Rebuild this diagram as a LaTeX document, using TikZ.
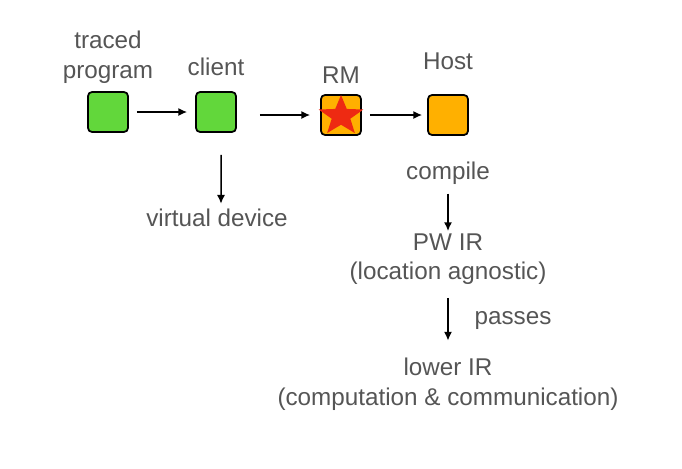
\documentclass[tikz,border=0pt]{standalone}
\usepackage{fontspec}
\setmainfont{Liberation Sans}
\usepackage{tikz}
\usetikzlibrary{arrows.meta}
\usetikzlibrary{shapes.geometric}
\definecolor{boxgreen}{HTML}{62D73B}
\definecolor{boxorange}{HTML}{FFB000}
\definecolor{starred}{HTML}{EE2A12}
\definecolor{txtgray}{HTML}{555555}
\tikzset{box/.style = {draw=black, line width=1pt, rounded corners=0.08cm, minimum size=0.8cm, inner sep=0}}
\tikzset{lbl/.style = {text=txtgray, inner sep=0, align=center, font=\fontsize{13.8}{16.8}\selectfont}}
\tikzset{arr/.style = {-{Latex[length=5pt,width=4.6pt]}, line width=0.85pt}}

\begin{document}
\begin{tikzpicture}[x=0.02cm, y=-0.02cm]
        \useasboundingbox (0,0) rectangle (682,468);
        \node [box, fill=boxgreen] (traced) at (108,112) {};
        \node [box, fill=boxgreen] (client) at (216,112) {};
        \node [box, fill=boxorange] (rm) at (341,115) {};
        \node [star, star points=5, star point ratio=2.4, fill=starred, minimum size=0.84cm, inner sep=0, xscale=1.12] (mark) at (341,116) {};
        \node [box, fill=boxorange] (host) at (448,115) {};
        \node [lbl] (tracedlbl) at (108,57) {traced\\program};
        \node [lbl] (clientlbl) at (216,67) {client};
        \node [lbl] (rmlbl) at (341,75) {RM};
        \node [lbl] (hostlbl) at (448,61) {Host};
        \node [lbl] (vdev) at (217,218) {virtual device};
        \node [lbl] (compile) at (448,173) {compile};
        \node [lbl] (pwir) at (448,259) {PW IR\\(location agnostic)};
        \node [lbl] (passes) at (513,320) {passes};
        \node [lbl] (lowir) at (448,384) {lower IR\\(computation \& communication)};
        \draw [arr, shorten <=0.16cm, shorten >=0.16cm] (traced.east) -- (client.west);
        \draw [arr, shorten <=0.46cm, shorten >=0.2cm] (client.east |- rm) -- (rm.west);
        \draw [arr, shorten <=0.16cm, shorten >=0.1cm] (rm.east) -- (host.west);
        \draw [arr, shorten <=0.44cm, shorten >=0.1cm] ([xshift=0.1cm]client.south) -- ([xshift=0.08cm]vdev.north);
        \draw [arr, shorten <=0.18cm, shorten >=0.04cm] (compile) -- (pwir);
        \draw [arr, shorten <=0.26cm, shorten >=0.34cm] (pwir) -- (lowir);
    \end{tikzpicture}
\end{document}
